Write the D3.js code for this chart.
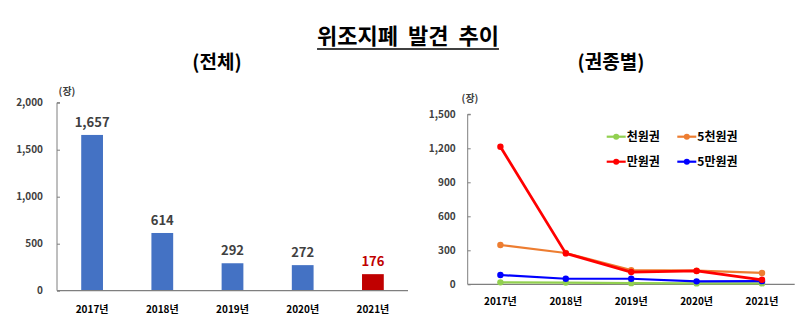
<!DOCTYPE html>
<html>
<head>
<meta charset="utf-8">
<script src="https://cdn.jsdelivr.net/npm/d3@7"></script>
<style>
  html, body { margin: 0; padding: 0; background: #fff; }
  svg { display: block; }
  text { font-family: "Noto Sans CJK KR", "Noto Sans", sans-serif; font-weight: bold; }
</style>
</head>
<body>
<svg id="chart" width="809" height="334"></svg>
<script>
// Counterfeit notes found per year (total)
const years = ["2017년", "2018년", "2019년", "2020년", "2021년"];
const totals = [1657, 614, 292, 272, 176];
const totalTicks = [0, 500, 1000, 1500, 2000];

// By denomination
const seriesNames = ["천원권", "5천원권", "만원권", "5만원권"];
const seriesColors = ["#92d050", "#ed7d31", "#ff0000", "#0000ff"];
const won1000 = [17, 15, 10, 8, 8];
const won5000 = [347, 276, 125, 120, 100];
const won10000 = [1214, 273, 108, 118, 40];
const won50000 = [82, 49, 49, 26, 28];
const denomTicks = [0, 300, 600, 900, 1200, 1500];

const svg = d3.select("#chart");
const fmt = d3.format(",");
const axisColor = "#7f7f7f";
const textColor = "#404040";

// Titles
const title = svg.append("text")
  .attr("x", 408).attr("y", 44)
  .attr("text-anchor", "middle")
  .attr("font-size", 22)
  .attr("fill", "#000")
  .attr("xml:space", "preserve")
  .text("위조지폐  발견  추이");
const tb = title.node().getBBox();
svg.append("line")
  .attr("x1", tb.x).attr("x2", tb.x + tb.width)
  .attr("y1", 49).attr("y2", 49)
  .attr("stroke", "#000").attr("stroke-width", 1.5);

svg.append("text").attr("x", 217).attr("y", 69)
  .attr("text-anchor", "middle").attr("font-size", 19).attr("fill", "#000")
  .text("(전체)");
svg.append("text").attr("x", 611).attr("y", 69)
  .attr("text-anchor", "middle").attr("font-size", 19).attr("fill", "#000")
  .text("(권종별)");

// Left: bar chart of totals
{
  const x = d3.scaleBand().domain(years).range([57, 408]).paddingInner(0.69).paddingOuter(0.345);
  const y = d3.scaleLinear().domain([0, 2000]).range([290.7, 102.7]);

  const yAxis = svg.append("g").attr("transform", "translate(57,0)")
    .call(d3.axisRight(y).tickValues(totalTicks).tickSize(3).tickFormat(fmt));
  yAxis.select(".domain").attr("stroke", axisColor).attr("d", `M3,${y(2000)}H0V${y(0)}`);
  yAxis.selectAll(".tick line").attr("stroke", axisColor);
  yAxis.selectAll(".tick text")
    .attr("x", -14).attr("text-anchor", "end")
    .attr("font-size", 10).attr("fill", textColor)
    .attr("font-family", "'Liberation Sans Narrow', 'Liberation Sans', sans-serif");

  svg.append("g").selectAll("rect").data(totals).join("rect")
    .attr("x", (d, i) => x(years[i]))
    .attr("width", x.bandwidth())
    .attr("y", d => y(d))
    .attr("height", d => y(0) - y(d))
    .attr("fill", (d, i) => i === totals.length - 1 ? "#c00000" : "#4472c4");

  svg.append("line").attr("x1", 57).attr("x2", 408)
    .attr("y1", y(0)).attr("y2", y(0)).attr("stroke", axisColor).attr("stroke-width", 1.2);

  svg.append("g").selectAll("text").data(totals).join("text")
    .attr("x", (d, i) => x(years[i]) + x.bandwidth() / 2)
    .attr("y", d => y(d) - 8)
    .attr("text-anchor", "middle")
    .attr("font-size", 13)
    .attr("fill", (d, i) => i === totals.length - 1 ? "#c00000" : textColor)
    .text(d => fmt(d));

  svg.append("g").selectAll("text").data(years).join("text")
    .attr("x", d => x(d) + x.bandwidth() / 2)
    .attr("y", 313)
    .attr("text-anchor", "middle")
    .attr("font-size", 10).attr("fill", "#000")
    .text(d => d);

  svg.append("text").attr("x", 67).attr("y", 95)
    .attr("text-anchor", "middle").attr("font-size", 10).attr("fill", textColor)
    .text("(장)");
}

// Right: line chart by denomination
{
  const x = d3.scaleBand().domain(years).range([467.7, 794.7]);
  const cx = d => x(d) + x.bandwidth() / 2;
  const y = d3.scaleLinear().domain([0, 1500]).range([284.3, 114.3]);

  const yAxis = svg.append("g").attr("transform", "translate(467.7,0)")
    .call(d3.axisRight(y).tickValues(denomTicks).tickSize(3).tickFormat(fmt));
  yAxis.select(".domain").attr("stroke", axisColor).attr("d", `M3,${y(1500)}H0V${y(0)}`);
  yAxis.selectAll(".tick line").attr("stroke", axisColor);
  yAxis.selectAll(".tick text")
    .attr("x", -12).attr("text-anchor", "end")
    .attr("font-size", 10).attr("fill", textColor)
    .attr("font-family", "'Liberation Sans Narrow', 'Liberation Sans', sans-serif");

  svg.append("line").attr("x1", 467.7).attr("x2", 794.7)
    .attr("y1", y(0)).attr("y2", y(0)).attr("stroke", axisColor).attr("stroke-width", 1.2);

  const seriesData = [won1000, won5000, won10000, won50000];
  const line = d3.line().x((d, i) => cx(years[i])).y(d => y(d));
  // draw order: blue and green under, red on top
  const order = [0, 3, 1, 2];
  order.forEach(s => {
    const g = svg.append("g");
    g.append("path").datum(seriesData[s])
      .attr("d", line).attr("fill", "none")
      .attr("stroke", seriesColors[s])
      .attr("stroke-width", s === 2 ? 2.8 : 2.2)
      .attr("stroke-linejoin", "round");
    g.selectAll("circle").data(seriesData[s]).join("circle")
      .attr("cx", (d, i) => cx(years[i])).attr("cy", d => y(d))
      .attr("r", 3.2).attr("fill", seriesColors[s]);
  });

  svg.append("g").selectAll("text").data(years).join("text")
    .attr("x", d => cx(d)).attr("y", 305)
    .attr("text-anchor", "middle")
    .attr("font-size", 10).attr("fill", "#000")
    .text(d => d);

  svg.append("text").attr("x", 470).attr("y", 102)
    .attr("text-anchor", "middle").attr("font-size", 10).attr("fill", textColor)
    .text("(장)");

  // Legend
  const legendPos = [[606.7, 136.7], [677.3, 136.7], [606.7, 161.7], [677.3, 161.7]];
  seriesNames.forEach((name, s) => {
    const [lx, ly] = legendPos[s];
    const g = svg.append("g").attr("transform", `translate(${lx},${ly})`);
    g.append("line").attr("x1", 0).attr("x2", 19).attr("y1", 0).attr("y2", 0)
      .attr("stroke", seriesColors[s]).attr("stroke-width", 2.2);
    g.append("circle").attr("cx", 9.5).attr("cy", 0).attr("r", 3).attr("fill", seriesColors[s]);
    g.append("text").attr("x", 20).attr("y", 0).attr("dy", "0.36em")
      .attr("font-size", 12).attr("fill", "#000").text(name);
  });
}
</script>
</body>
</html>
